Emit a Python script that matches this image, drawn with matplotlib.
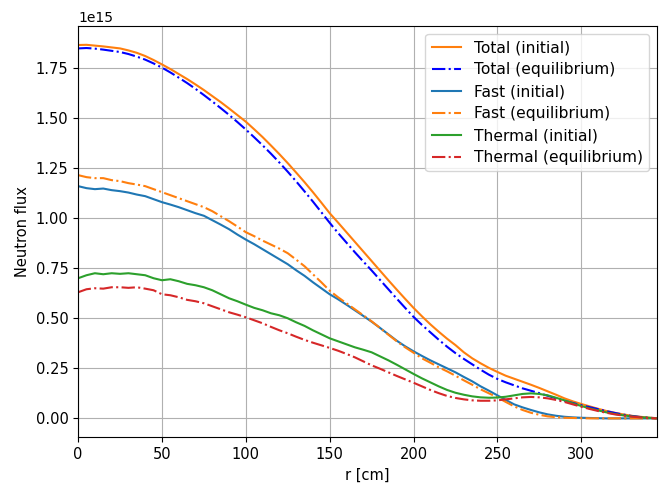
import matplotlib
matplotlib.use('Agg')
import matplotlib.pyplot as plt
import numpy as np

# radius grid [cm]
r = np.arange(0, 350, 5)

# fluxes in units of 1e15
total_init = [1.865, 1.866, 1.862, 1.858, 1.853, 1.848, 1.838, 1.826, 1.81, 1.79,
              1.768, 1.745, 1.72, 1.695, 1.668, 1.64, 1.61, 1.58, 1.548, 1.515,
              1.482, 1.444, 1.405, 1.363, 1.32, 1.275, 1.228, 1.18, 1.13, 1.078,
              1.025, 0.978, 0.93, 0.882, 0.834, 0.786, 0.738, 0.69, 0.643, 0.597,
              0.552, 0.51, 0.47, 0.433, 0.398, 0.366, 0.33, 0.3, 0.275, 0.252,
              0.232, 0.213, 0.198, 0.183, 0.168, 0.152, 0.135, 0.118, 0.1, 0.085,
              0.072, 0.06, 0.048, 0.037, 0.028, 0.02, 0.013, 0.008, 0.004, 0.001]
total_eq = [1.848, 1.85, 1.847, 1.842, 1.836, 1.83, 1.82, 1.807, 1.792, 1.773,
            1.752, 1.728, 1.702, 1.675, 1.646, 1.615, 1.583, 1.55, 1.516, 1.48,
            1.443, 1.404, 1.364, 1.322, 1.278, 1.232, 1.184, 1.134, 1.083, 1.03,
            0.977, 0.926, 0.878, 0.83, 0.784, 0.739, 0.692, 0.645, 0.598, 0.552,
            0.507, 0.467, 0.43, 0.393, 0.358, 0.326, 0.297, 0.27, 0.243, 0.218,
            0.197, 0.18, 0.165, 0.15, 0.138, 0.126, 0.113, 0.1, 0.088, 0.077,
            0.066, 0.056, 0.046, 0.036, 0.027, 0.019, 0.012, 0.007, 0.003, 0.001]
fast_init = [1.16, 1.15, 1.145, 1.148, 1.14, 1.135, 1.128, 1.118, 1.11, 1.095,
             1.08, 1.068, 1.055, 1.04, 1.025, 1.012, 0.99, 0.968, 0.945, 0.918,
             0.893, 0.87, 0.845, 0.82, 0.795, 0.77, 0.74, 0.712, 0.68, 0.65,
             0.62, 0.595, 0.568, 0.54, 0.512, 0.483, 0.452, 0.42, 0.388, 0.36,
             0.335, 0.312, 0.29, 0.27, 0.25, 0.23, 0.207, 0.185, 0.16, 0.138,
             0.115, 0.092, 0.07, 0.055, 0.042, 0.03, 0.02, 0.013, 0.008, 0.005,
             0.003, 0.002, 0.001, 0.0, 0.0, 0.0, 0.0, 0.0, 0.0, 0.0]
fast_eq = [1.215, 1.205, 1.2, 1.2, 1.19, 1.185, 1.175, 1.168, 1.16, 1.145,
           1.13, 1.115, 1.1, 1.085, 1.07, 1.055, 1.035, 1.01, 0.985, 0.958,
           0.93, 0.91, 0.888, 0.868, 0.848, 0.825, 0.793, 0.76, 0.72, 0.68,
           0.638, 0.605, 0.575, 0.545, 0.515, 0.485, 0.452, 0.418, 0.385, 0.355,
           0.328, 0.3, 0.278, 0.255, 0.235, 0.213, 0.19, 0.168, 0.145, 0.125,
           0.105, 0.082, 0.06, 0.042, 0.028, 0.018, 0.01, 0.006, 0.003, 0.002,
           0.001, 0.0, 0.0, 0.0, 0.0, 0.0, 0.0, 0.0, 0.0, 0.0]
thermal_init = [0.70, 0.715, 0.725, 0.72, 0.725, 0.722, 0.725, 0.72, 0.715, 0.70,
                0.69, 0.695, 0.685, 0.672, 0.665, 0.655, 0.64, 0.62, 0.60, 0.585,
                0.568, 0.552, 0.54, 0.525, 0.515, 0.50, 0.48, 0.462, 0.44, 0.42,
                0.40, 0.385, 0.37, 0.355, 0.343, 0.33, 0.31, 0.29, 0.268, 0.245,
                0.222, 0.20, 0.18, 0.16, 0.142, 0.128, 0.118, 0.11, 0.105, 0.103,
                0.104, 0.108, 0.115, 0.122, 0.125, 0.122, 0.115, 0.103, 0.09, 0.075,
                0.062, 0.05, 0.04, 0.03, 0.022, 0.015, 0.01, 0.006, 0.003, 0.0]
thermal_eq = [0.63, 0.645, 0.65, 0.648, 0.655, 0.655, 0.652, 0.655, 0.648, 0.64,
              0.62, 0.615, 0.605, 0.592, 0.585, 0.575, 0.56, 0.545, 0.53, 0.518,
              0.505, 0.49, 0.475, 0.457, 0.44, 0.425, 0.408, 0.392, 0.378, 0.365,
              0.352, 0.338, 0.322, 0.305, 0.285, 0.265, 0.248, 0.23, 0.212, 0.195,
              0.178, 0.16, 0.142, 0.126, 0.112, 0.102, 0.095, 0.09, 0.088, 0.088,
              0.09, 0.095, 0.10, 0.105, 0.107, 0.105, 0.10, 0.092, 0.082, 0.07,
              0.058, 0.047, 0.037, 0.028, 0.02, 0.014, 0.009, 0.005, 0.002, 0.0]

scale = 1e15

fig, ax = plt.subplots(figsize=(6.62, 4.84), dpi=100)
fig.subplots_adjust(left=0.118, right=0.992, top=0.946, bottom=0.097)

ax.plot(r, np.array(total_init)*scale, color='tab:orange', label='Total (initial)')
ax.plot(r, np.array(total_eq)*scale, 'b-.', label='Total (equilibrium)')
ax.plot(r, np.array(fast_init)*scale, color='tab:blue', label='Fast (initial)')
ax.plot(r, np.array(fast_eq)*scale, '-.', color='tab:orange', label='Fast (equilibrium)')
ax.plot(r, np.array(thermal_init)*scale, color='tab:green', label='Thermal (initial)')
ax.plot(r, np.array(thermal_eq)*scale, '-.', color='tab:red', label='Thermal (equilibrium)')

ax.set_xlim(0, 345)
ax.set_xlabel('r [cm]', fontsize=10.5)
ax.set_ylabel('Neutron flux', fontsize=10.5)
ax.tick_params(labelsize=10.5)
ax.grid()
ax.legend(loc='upper right', fontsize=11.2, labelspacing=0.45, handlelength=1.9)

fig.savefig('out.png')
